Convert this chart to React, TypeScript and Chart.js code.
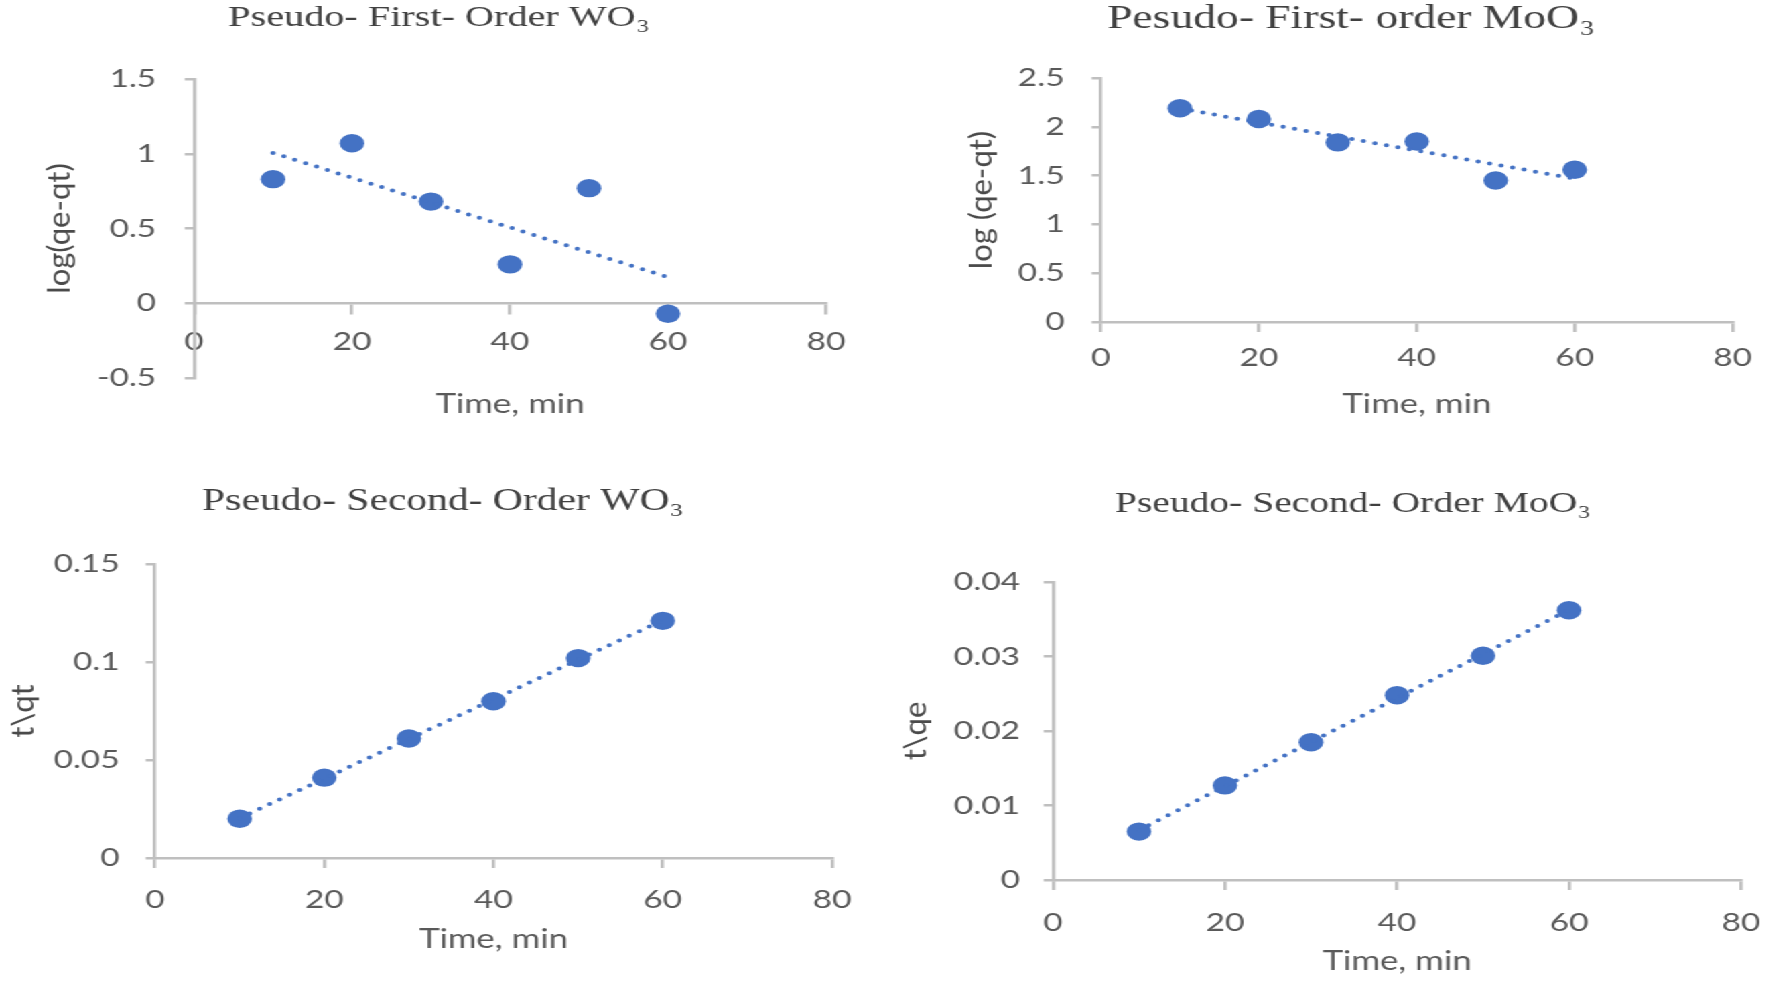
import React, { useEffect, useRef } from "react";
import { Chart, registerables } from "chart.js";

Chart.register(...registerables);

// ---------------- data ----------------
const timeMin = [10, 20, 30, 40, 50, 60];
const firstOrderWO3 = [0.83, 1.07, 0.68, 0.26, 0.77, -0.07];
const firstOrderMoO3 = [2.19, 2.08, 1.84, 1.85, 1.45, 1.56];
const secondOrderWO3 = [0.02, 0.041, 0.061, 0.08, 0.102, 0.121];
const secondOrderMoO3 = [0.0065, 0.0127, 0.0185, 0.0248, 0.0301, 0.0362];

const chartTitles = [
  "Pseudo- First- Order WO₃",
  "Pesudo- First- order MoO₃",
  "Pseudo- Second- Order WO₃",
  "Pseudo- Second- Order MoO₃",
];
const yAxisTitles = ["log(qe-qt)", "log (qe-qt)", "t\\qt", "t\\qe"];
const xAxisTitle = "Time, min";
const xMin = 0;
const xMax = 80;
const xStep = 20;
const yMins = [-0.5, 0, 0, 0];
const yMaxs = [1.5, 2.5, 0.15, 0.04];
const ySteps = [0.5, 0.5, 0.05, 0.01];
const seriesList = [firstOrderWO3, firstOrderMoO3, secondOrderWO3, secondOrderMoO3];

// ---------------- styling / layout ----------------
const STRETCH = 1.34; // the source picture is stretched horizontally
const MARKER = "#4472C4";
const AXIS = "#bfbfbf";
const TICK_TEXT = "#595959";
const SANS = "Lato, 'Noto Sans', sans-serif";
const SERIF = "'Liberation Serif', 'Times New Roman', serif";

const TICK_FONT = 25;
const TICK_LH = 25;
const XTITLE_FONT = 26;
const XTITLE_LH = 31.2;
const YTITLE_FONT = 31;
const X_TL = 10;
const Y_TL = 7;

type Target = {
  canvasLeft: number; canvasTop: number; canvasWidth: number; canvasHeight: number;
  chartLeft: number; chartRight: number; chartTop: number; chartBottom: number;
  titleCx: number; titleCy: number; titleSize: number;
  yTitleCx: number; yLabelRight: number;
  xLabelCy: number; xTitleCy: number;
  xAtZero: boolean;
};

// absolute positions in the unstretched coordinate space (x = screen x / STRETCH)
const targets: Target[] = [
  { canvasLeft: 0, canvasTop: 0, canvasWidth: 660, canvasHeight: 440, chartLeft: 144.8, chartRight: 616.4, chartTop: 79, chartBottom: 378, titleCx: 327.6, titleCy: 18, titleSize: 30, yTitleCx: 44.8, yLabelRight: 116.6, xLabelCy: 342, xTitleCy: 405, xAtZero: true },
  { canvasLeft: 690, canvasTop: 0, canvasWidth: 631, canvasHeight: 440, chartLeft: 821.6, chartRight: 1299.3, chartTop: 78, chartBottom: 322, titleCx: 1008.2, titleCy: 19, titleSize: 34, yTitleCx: 732.8, yLabelRight: 794.4, xLabelCy: 358, xTitleCy: 405, xAtZero: false },
  { canvasLeft: 0, canvasTop: 460, canvasWidth: 665, canvasHeight: 523, chartLeft: 115.7, chartRight: 620.9, chartTop: 564, chartBottom: 858, titleCx: 330.6, titleCy: 502, titleSize: 31, yTitleCx: 17.9, yLabelRight: 89.3, xLabelCy: 900, xTitleCy: 940, xAtZero: false },
  { canvasLeft: 650, canvasTop: 460, canvasWidth: 700, canvasHeight: 523, chartLeft: 785.8, chartRight: 1299.3, chartTop: 582, chartBottom: 880, titleCx: 1009.7, titleCy: 504, titleSize: 29.5, yTitleCx: 683.6, yLabelRight: 761.2, xLabelCy: 923, xTitleCy: 962, xAtZero: false },
];

// least-squares linear trendline (as in the spreadsheet chart)
function linearFit(xs: number[], ys: number[]) {
  const n = xs.length;
  const mx = xs.reduce((a, b) => a + b, 0) / n;
  const my = ys.reduce((a, b) => a + b, 0) / n;
  let sxy = 0;
  let sxx = 0;
  for (let i = 0; i < n; i++) {
    sxy += (xs[i] - mx) * (ys[i] - my);
    sxx += (xs[i] - mx) * (xs[i] - mx);
  }
  const slope = sxy / sxx;
  const intercept = my - slope * mx;
  const x0 = Math.min(...xs);
  const x1 = Math.max(...xs);
  return [
    { x: x0, y: intercept + slope * x0 },
    { x: x1, y: intercept + slope * x1 },
  ];
}

const fmt = (v: number | string) => String(parseFloat(Number(v).toFixed(4)));

// y-axis titles keep their natural proportions in the source picture,
// so they are drawn with a counter-scale to cancel the horizontal stretch.
const naturalYTitle = {
  id: "naturalYTitle",
  afterDraw(chart: any, _args: any, opts: any) {
    const { ctx, chartArea } = chart;
    ctx.save();
    ctx.translate(opts.x, (chartArea.top + chartArea.bottom) / 2);
    ctx.scale(1 / STRETCH, 1);
    ctx.rotate(-Math.PI / 2);
    ctx.font = `normal ${opts.size}px ${SANS}`;
    ctx.fillStyle = opts.color;
    ctx.textAlign = "center";
    ctx.textBaseline = "middle";
    ctx.fillText(opts.text, 0, 0);
    ctx.restore();
  },
};

function Panel({ index }: { index: number }) {
  const ref = useRef<HTMLCanvasElement | null>(null);
  const T = targets[index];

  useEffect(() => {
    if (!ref.current) return;
    const ys = seriesList[index];
    const points = timeMin.map((x, i) => ({ x, y: ys[i] }));
    const trend = linearFit(timeMin, ys);

    // horizontal layout: the title spans [scaleLeft, titleRight], centred on titleCx
    const titleLH = T.titleSize * 1.2;
    const scaleLeft = Math.min(2 * T.titleCx - T.chartRight, T.yLabelRight - 70);
    const titleRight = 2 * T.titleCx - scaleLeft;
    const rightSpacer = Math.max(titleRight - T.chartRight, 0);
    const padLeft = scaleLeft - T.canvasLeft;
    const padRight = T.canvasLeft + T.canvasWidth - titleRight;
    const yWidth = T.chartLeft - scaleLeft;
    // vertical layout
    const titlePadTop = T.titleCy - T.canvasTop - titleLH / 2;
    const titlePadBottom = T.chartTop - T.canvasTop - titleLH - titlePadTop;
    const ymin = yMins[index];
    const ymax = yMaxs[index];
    let padBottom = 0;
    let xHeight = 0;
    let axisY = T.chartBottom;
    if (T.xAtZero) {
      padBottom = T.canvasTop + T.canvasHeight - T.chartBottom;
      xHeight = 120;
      axisY = T.chartTop + ((ymax - 0) / (ymax - ymin)) * (T.chartBottom - T.chartTop);
    } else {
      xHeight = T.canvasTop + T.canvasHeight - T.chartBottom;
    }
    const xTickPad = T.xLabelCy - axisY - X_TL - TICK_LH / 2;
    const xTitlePadBottom = xHeight - XTITLE_LH / 2 - (T.xTitleCy - axisY);
    const yTickPad = T.chartLeft - T.yLabelRight - Y_TL;

    const chart = new Chart(ref.current, {
      type: "scatter",
      data: {
        datasets: [
          {
            label: "trend",
            data: trend,
            showLine: true,
            borderColor: MARKER,
            borderWidth: 4,
            borderDash: [0, 8.8],
            borderCapStyle: "round",
            pointRadius: 0,
            fill: false,
          } as any,
          {
            label: chartTitles[index],
            data: points,
            backgroundColor: MARKER,
            borderColor: MARKER,
            pointRadius: 9.2,
            pointBorderWidth: 0,
            showLine: false,
          } as any,
        ],
      },
      plugins: [naturalYTitle as any],
      options: {
        responsive: false,
        animation: false,
        devicePixelRatio: 1,
        layout: { padding: { left: padLeft, top: 0, right: padRight, bottom: padBottom } },
        plugins: {
          legend: { display: false },
          tooltip: { enabled: false },
          title: {
            display: true,
            text: chartTitles[index],
            color: "#404040",
            font: { family: SERIF, size: T.titleSize, weight: "normal", lineHeight: 1.2 },
            padding: { top: titlePadTop, bottom: titlePadBottom },
          },
          naturalYTitle: {
            text: yAxisTitles[index],
            x: T.yTitleCx - T.canvasLeft,
            size: YTITLE_FONT,
            color: "#4a4a4a",
          },
        } as any,
        scales: {
          x: {
            type: "linear",
            position: T.xAtZero ? ({ y: 0 } as any) : "bottom",
            min: xMin,
            max: xMax,
            ticks: {
              stepSize: xStep,
              padding: xTickPad,
              color: TICK_TEXT,
              font: { family: SANS, size: TICK_FONT, lineHeight: 1 },
              callback: (v: any) => fmt(v),
              maxRotation: 0,
            },
            grid: {
              display: true,
              drawOnChartArea: false,
              drawTicks: true,
              tickLength: X_TL,
              color: AXIS,
              lineWidth: 2.5,
            },
            border: { display: true, color: AXIS, width: 2.5 },
            title: {
              display: true,
              text: xAxisTitle,
              color: TICK_TEXT,
              font: { family: SANS, size: XTITLE_FONT, lineHeight: 1.2 },
              padding: { top: 0, bottom: xTitlePadBottom },
            },
            afterFit: (s: any) => {
              s.height = xHeight;
            },
          } as any,
          y: {
            type: "linear",
            position: "left",
            min: ymin,
            max: ymax,
            ticks: {
              stepSize: ySteps[index],
              padding: yTickPad,
              color: TICK_TEXT,
              font: { family: SANS, size: TICK_FONT, lineHeight: 1 },
              callback: (v: any) => fmt(v),
            },
            grid: {
              display: true,
              drawOnChartArea: false,
              drawTicks: true,
              tickLength: Y_TL,
              color: AXIS,
              lineWidth: 2.5,
            },
            border: { display: true, color: AXIS, width: 2.5 },
            title: { display: false, text: yAxisTitles[index] },
            afterFit: (s: any) => {
              s.width = yWidth;
            },
          } as any,
          // empty spacer on the right so the chart title can be centred like the source
          spacer: {
            type: "linear",
            axis: "y",
            position: "right",
            display: true,
            ticks: { display: false },
            grid: { display: false },
            border: { display: false },
            title: { display: false },
            afterFit: (s: any) => {
              s.width = rightSpacer;
            },
          } as any,
        },
      },
    });
    return () => chart.destroy();
  }, [index]);

  return (
    <canvas
      ref={ref}
      width={T.canvasWidth}
      height={T.canvasHeight}
      style={{ position: "absolute", left: T.canvasLeft, top: T.canvasTop, width: T.canvasWidth, height: T.canvasHeight }}
    />
  );
}

export default function App() {
  const innerWidth = 1770 / STRETCH;
  return (
    <div
      style={{
        position: "fixed",
        left: 0,
        top: 0,
        width: innerWidth,
        height: 983,
        overflow: "hidden",
        background: "#ffffff",
        transform: `scaleX(${STRETCH})`,
        transformOrigin: "0 0",
      }}
    >
      {[0, 1, 2, 3].map((i) => (
        <Panel key={i} index={i} />
      ))}
    </div>
  );
}
